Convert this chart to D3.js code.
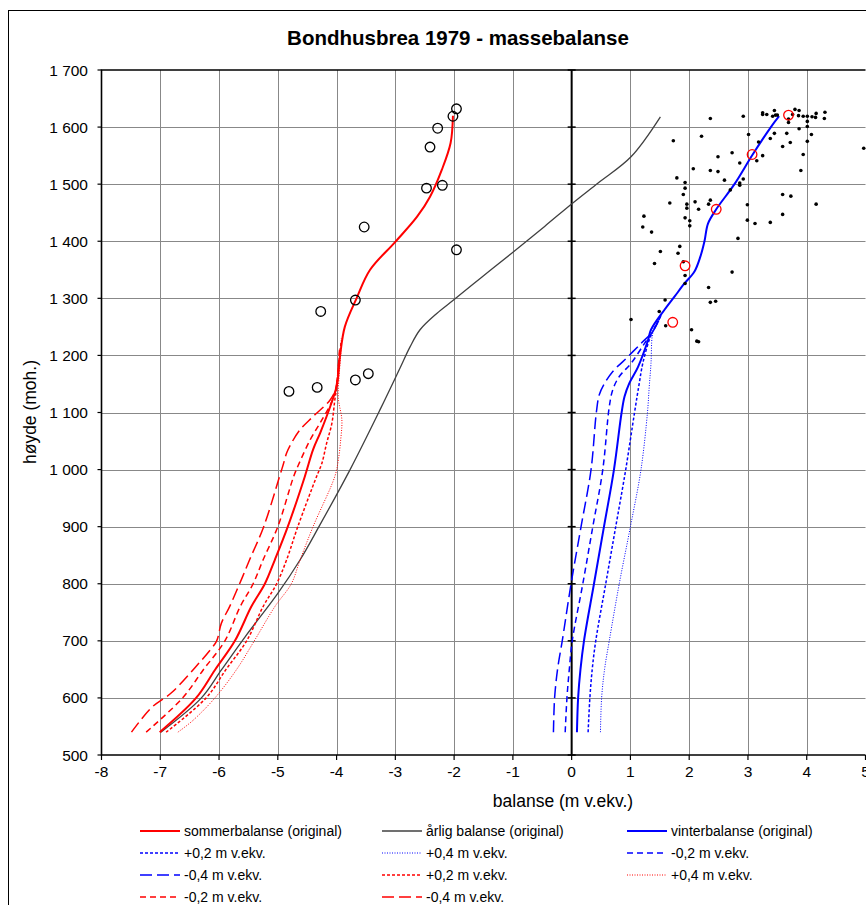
<!DOCTYPE html>
<html>
<head>
<meta charset="utf-8">
<script src="https://cdn.jsdelivr.net/npm/d3@7"></script>
<style>
  body { margin: 0; background: #fff; }
  text { font-family: "Liberation Sans", Arial, sans-serif; fill: #000; }
</style>
</head>
<body>
<div id="chart"></div>
<script>
// balance (m v.ekv.) vs altitude (moh.), bottom to top
const sommerOriginal = [[-7.01,540],[-6.39,600],[-6.07,649],[-5.73,700],[-5.45,760],[-5.22,800],[-5.05,842],[-4.83,900],[-4.54,988],[-4.40,1035],[-4.28,1064],[-4.17,1093],[-4.06,1125],[-3.99,1150],[-3.94,1200],[-3.86,1250],[-3.66,1300],[-3.43,1350],[-3.00,1399],[-2.63,1443],[-2.41,1478],[-2.21,1525],[-2.06,1572],[-2.02,1620]];
const sommerP02 = [[-6.90,540],[-6.22,600],[-5.88,650],[-5.53,700],[-5.25,760],[-5.02,800],[-4.85,842],[-4.66,900],[-4.34,988],[-4.25,1011],[-4.17,1046],[-4.08,1081],[-4.03,1122],[-3.99,1150],[-3.95,1200],[-3.92,1225]];
const sommerP04 = [[-6.70,540],[-6.45,560],[-6.07,600],[-5.70,650],[-5.40,700],[-5.05,760],[-4.77,800],[-4.62,842],[-4.40,900],[-4.03,988],[-3.97,1017],[-3.93,1052],[-3.91,1087],[-3.97,1125],[-3.96,1160],[-3.93,1200],[-3.92,1230]];
const sommerM02 = [[-7.24,540],[-6.62,600],[-6.27,649],[-5.90,700],[-5.64,760],[-5.42,800],[-5.25,842],[-5.00,900],[-4.73,988],[-4.65,1008],[-4.45,1052],[-4.25,1087],[-4.08,1119],[-4.01,1140],[-3.97,1180],[-3.94,1215]];
const sommerM04 = [[-7.49,540],[-7.15,583],[-6.81,609],[-6.41,653],[-6.15,684],[-6.04,700],[-5.96,731],[-5.82,760],[-5.65,800],[-5.48,842],[-5.24,900],[-4.97,988],[-4.91,1008],[-4.85,1029],[-4.77,1046],[-4.62,1070],[-4.40,1093],[-4.11,1122],[-4.02,1140],[-3.98,1170],[-3.95,1210]];

const aarligOriginal = [[-6.99,540],[-6.30,600],[-5.96,649],[-5.55,708],[-5.00,783],[-4.62,842],[-4.30,900],[-3.77,1000],[-3.26,1105],[-2.92,1178],[-2.75,1215],[-2.58,1245],[-2.29,1274],[-2.01,1297],[-1.52,1338],[-1.02,1379],[-0.46,1426],[0.02,1467],[0.45,1502],[1.01,1548],[1.51,1618]];

const vinterOriginal = [[0.09,540],[0.11,600],[0.15,650],[0.21,700],[0.38,800],[0.55,900],[0.72,1000],[0.85,1100],[0.90,1128],[0.98,1151],[1.13,1180],[1.30,1227],[1.35,1245],[1.58,1280],[1.75,1303],[1.92,1326],[2.09,1347],[2.19,1373],[2.26,1400],[2.32,1431],[2.46,1456],[2.77,1500],[3.08,1552],[3.39,1600],[3.53,1619]];
const vinterP02 = [[0.28,540],[0.31,600],[0.35,650],[0.41,700],[0.58,800],[0.75,900],[0.92,1000],[1.07,1100],[1.15,1151],[1.21,1186],[1.32,1227],[1.38,1242],[1.52,1270]];
const vinterP04 = [[0.49,540],[0.51,600],[0.56,650],[0.64,700],[0.81,800],[1.00,900],[1.18,1000],[1.29,1100],[1.32,1145],[1.35,1186],[1.37,1233],[1.40,1245],[1.52,1270]];
const vinterM02 = [[-0.11,540],[-0.08,600],[-0.04,650],[0.01,700],[0.19,800],[0.36,900],[0.53,1000],[0.64,1110],[0.70,1140],[0.81,1163],[1.01,1186],[1.24,1221],[1.38,1242],[1.52,1270]];
const vinterM04 = [[-0.31,540],[-0.29,600],[-0.24,650],[-0.16,700],[-0.01,800],[0.16,900],[0.33,1000],[0.42,1100],[0.47,1131],[0.56,1151],[0.70,1172],[0.90,1192],[1.18,1221],[1.38,1242],[1.52,1270]];

// measured summer balance (open black circles)
const sommerMaltX = [-1.96,-2.02,-2.28,-2.41,-2.20,-2.47,-3.53,-1.96,-3.68,-4.27,-3.46,-3.68,-4.33,-4.81];
const sommerMaltY = [1632,1619,1598,1565,1498,1493,1425,1385,1297,1277,1168,1157,1144,1137];

// measured winter balance (open red circles)
const vinterMaltX = [3.69,3.07,2.46,1.93,1.72];
const vinterMaltY = [1621,1552,1456,1357,1258];

// snow soundings (small black dots)
const sonderingX = [2.36,2.92,3.25,3.25,3.32,3.45,3.42,3.47,3.50,3.69,3.69,3.80,3.87,3.76,3.86,3.94,4.01,4.09,4.16,4.15,4.31,4.30,4.01,4.01,3.87,4.08,4.01,3.66,3.72,3.59,3.45,3.38,3.01,3.18,3.25,3.15,3.94,3.90,4.97,1.73,2.21,2.49,2.73,2.86,2.07,2.36,2.49,2.60,2.92,2.86,2.86,2.70,1.79,1.93,1.93,1.90,1.67,1.96,1.96,2.10,2.16,2.36,2.33,1.93,2.01,2.01,2.99,2.99,3.12,3.38,3.59,3.73,3.59,4.16,2.83,1.23,1.21,1.36,1.84,1.51,1.81,1.90,1.41,1.93,1.93,2.73,2.33,2.36,2.45,1.59,1.49,1.60,1.01,2.04,2.13,2.16];
const sonderingY = [1615,1619,1625,1622,1622,1629,1619,1621,1621,1614,1608,1631,1629,1622,1620,1619,1619,1618,1624,1617,1626,1615,1610,1601,1597,1587,1575,1589,1573,1566,1589,1580,1587,1574,1550,1541,1552,1524,1563,1576,1584,1548,1555,1537,1527,1524,1522,1507,1509,1502,1498,1490,1511,1503,1493,1482,1467,1465,1458,1469,1456,1472,1465,1441,1436,1427,1464,1437,1431,1433,1482,1479,1447,1465,1405,1444,1425,1416,1391,1382,1379,1364,1361,1340,1326,1346,1319,1293,1295,1297,1277,1252,1263,1245,1225,1224];

const xTicks = d3.range(-8, 6, 1);
const yTicks = d3.range(500, 1701, 100);

const width = 866, height = 905;
const margin = { left: 101.5, right: 865.5, top: 70, bottom: 755 };

const svg = d3.select('#chart').append('svg')
  .attr('width', width)
  .attr('height', height);

svg.append('rect').attr('width', width).attr('height', height).attr('fill', '#fff');

// chart frame (right and bottom fall outside the picture)
svg.append('rect')
  .attr('x', 8.5).attr('y', 10.5)
  .attr('width', 1000).attr('height', 1000)
  .attr('fill', 'none').attr('stroke', '#000').attr('stroke-width', 1);

const x = d3.scaleLinear().domain([-8, 5]).range([margin.left, margin.right]);
const y = d3.scaleLinear().domain([500, 1700]).range([margin.bottom, margin.top]);

const spaceFmt = d3.formatLocale({ decimal: ',', thousands: ' ', grouping: [3], currency: ['', ''] }).format(',');

// gridlines
const grid = svg.append('g').attr('stroke', '#888').attr('stroke-width', 1);
xTicks.filter(t => t !== 0 && t !== -8 && t !== 5).forEach(t => {
  grid.append('line')
    .attr('x1', Math.round(x(t)) + 0.5).attr('x2', Math.round(x(t)) + 0.5)
    .attr('y1', margin.top).attr('y2', margin.bottom);
});
yTicks.filter(t => t !== 500 && t !== 1700).forEach(t => {
  grid.append('line')
    .attr('x1', margin.left).attr('x2', margin.right)
    .attr('y1', Math.round(y(t)) + 0.5).attr('y2', Math.round(y(t)) + 0.5);
});

// plot border: top, left, bottom
svg.append('path')
  .attr('d', `M${margin.right},${margin.top}H${margin.left}V${margin.bottom}H${margin.right}`)
  .attr('fill', 'none').attr('stroke', '#000').attr('stroke-width', 1.6);

// vertical axis at zero with small ticks
svg.append('line')
  .attr('x1', x(0)).attr('x2', x(0))
  .attr('y1', margin.top).attr('y2', margin.bottom)
  .attr('stroke', '#000').attr('stroke-width', 2);
yTicks.forEach(t => {
  svg.append('line')
    .attr('x1', x(0) - 4).attr('x2', x(0) + 4)
    .attr('y1', y(t)).attr('y2', y(t))
    .attr('stroke', '#000').attr('stroke-width', 1.5);
  svg.append('line')
    .attr('x1', margin.left - 4).attr('x2', margin.left)
    .attr('y1', y(t)).attr('y2', y(t))
    .attr('stroke', '#000').attr('stroke-width', 1.2);
});

// bottom axis
xTicks.forEach(t => {
  svg.append('line')
    .attr('x1', x(t)).attr('x2', x(t))
    .attr('y1', margin.bottom).attr('y2', margin.bottom + 5)
    .attr('stroke', '#000').attr('stroke-width', 1.2);
  svg.append('text')
    .attr('x', x(t)).attr('y', 777)
    .attr('text-anchor', 'middle')
    .style('font-size', '15.5px')
    .text(t);
});

yTicks.forEach(t => {
  svg.append('text')
    .attr('x', 88).attr('y', y(t) + 5.5)
    .attr('text-anchor', 'end')
    .style('font-size', '15.5px')
    .text(spaceFmt(t));
});

// axis titles
svg.append('text')
  .attr('x', 563).attr('y', 807)
  .attr('text-anchor', 'middle')
  .style('font-size', '17.5px')
  .text('balanse (m v.ekv.)');

svg.append('text')
  .attr('transform', 'translate(36,412) rotate(-90)')
  .attr('text-anchor', 'middle')
  .style('font-size', '17.5px')
  .text('høyde (moh.)');

svg.append('text')
  .attr('x', 458).attr('y', 45)
  .attr('text-anchor', 'middle')
  .style('font-size', '20.5px')
  .style('font-weight', 'bold')
  .text('Bondhusbrea 1979 - massebalanse');

// curves
const line = d3.line()
  .x(d => x(d[0]))
  .y(d => y(d[1]))
  .curve(d3.curveCatmullRom.alpha(0.5));

const RED = '#ff0000', BLUE = '#0000ff', GREY = '#404040';
const styles = {
  original: { dash: null, w: 2 },
  p02: { dash: '3,2', w: 1.5 },
  p04: { dash: '1,1.5', w: 1 },
  m02: { dash: '6,4', w: 1.5 },
  m04: { dash: '12,5', w: 1.5 }
};

const curves = [
  { data: aarligOriginal, color: GREY, style: 'original', w: 1.3 },
  { data: sommerM04, color: RED, style: 'm04' },
  { data: sommerM02, color: RED, style: 'm02' },
  { data: sommerP02, color: RED, style: 'p02' },
  { data: sommerP04, color: RED, style: 'p04' },
  { data: sommerOriginal, color: RED, style: 'original' },
  { data: vinterM04, color: BLUE, style: 'm04' },
  { data: vinterM02, color: BLUE, style: 'm02' },
  { data: vinterP02, color: BLUE, style: 'p02' },
  { data: vinterP04, color: BLUE, style: 'p04' },
  { data: vinterOriginal, color: BLUE, style: 'original' }
];

const plot = svg.append('g');

curves.forEach(c => {
  plot.append('path')
    .attr('d', line(c.data))
    .attr('fill', 'none')
    .attr('stroke', c.color)
    .attr('stroke-width', c.w || styles[c.style].w)
    .attr('stroke-dasharray', styles[c.style].dash);
});

// snow soundings
sonderingX.forEach((v, i) => {
  plot.append('circle')
    .attr('cx', x(v)).attr('cy', y(sonderingY[i]))
    .attr('r', 1.8).attr('fill', '#000');
});

// measured points
sommerMaltX.forEach((v, i) => {
  plot.append('circle')
    .attr('cx', x(v)).attr('cy', y(sommerMaltY[i]))
    .attr('r', 4.8).attr('fill', 'none')
    .attr('stroke', '#000').attr('stroke-width', 1.3);
});
vinterMaltX.forEach((v, i) => {
  plot.append('circle')
    .attr('cx', x(v)).attr('cy', y(vinterMaltY[i]))
    .attr('r', 4.8).attr('fill', 'none')
    .attr('stroke', RED).attr('stroke-width', 1.3);
});

// legend
const legendItems = [
  { label: 'sommerbalanse (original)', color: RED, style: 'original' },
  { label: 'årlig balanse (original)', color: GREY, style: 'original' },
  { label: 'vinterbalanse (original)', color: BLUE, style: 'original' },
  { label: '+0,2 m v.ekv.', color: BLUE, style: 'p02' },
  { label: '+0,4 m v.ekv.', color: BLUE, style: 'p04' },
  { label: '-0,2 m v.ekv.', color: BLUE, style: 'm02' },
  { label: '-0,4 m v.ekv.', color: BLUE, style: 'm04' },
  { label: '+0,2 m v.ekv.', color: RED, style: 'p02' },
  { label: '+0,4 m v.ekv.', color: RED, style: 'p04' },
  { label: '-0,2 m v.ekv.', color: RED, style: 'm02' },
  { label: '-0,4 m v.ekv.', color: RED, style: 'm04' }
];
const colX = [140, 382, 627];
const rowY = [831, 853, 875, 897];

legendItems.forEach((d, i) => {
  const g = svg.append('g')
    .attr('transform', `translate(${colX[i % 3]},${rowY[Math.floor(i / 3)]})`);
  g.append('line')
    .attr('x1', 0).attr('x2', 40)
    .attr('stroke', d.color)
    .attr('stroke-width', d.color === GREY ? 1.6 : styles[d.style].w)
    .attr('stroke-dasharray', styles[d.style].dash);
  g.append('text')
    .attr('x', 44).attr('y', 5)
    .style('font-size', '14px')
    .text(d.label);
});
</script>
</body>
</html>
